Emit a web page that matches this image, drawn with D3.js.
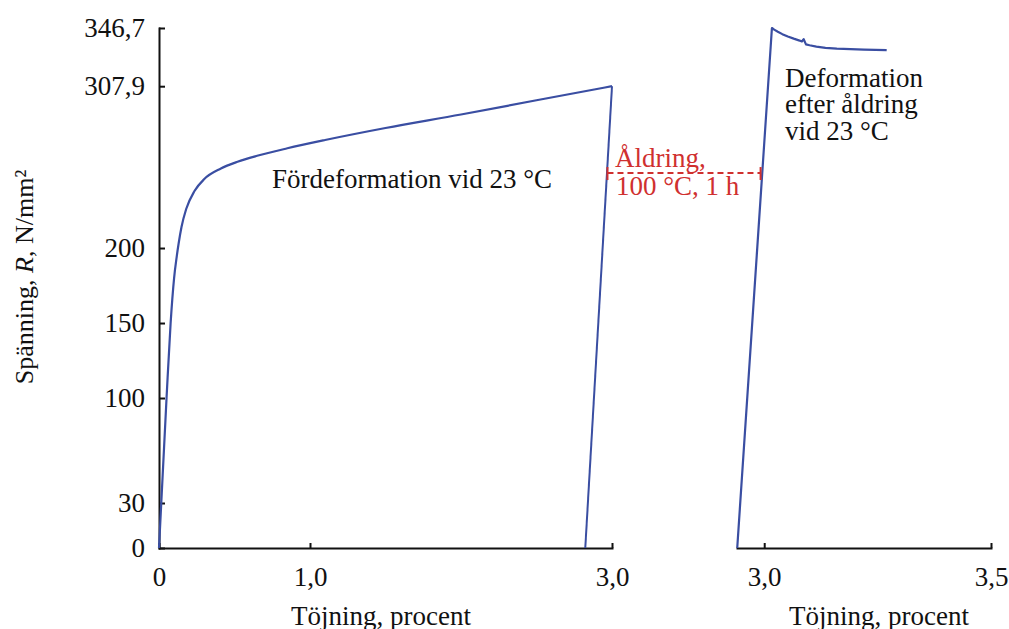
<!DOCTYPE html>
<html>
<head>
<meta charset="utf-8">
<script src="https://cdn.jsdelivr.net/npm/d3@7"></script>
<style>
  body { margin: 0; background: #fff; }
  svg text { font-family: "Liberation Serif", "Times New Roman", serif; fill: #111; }
  .axis path, .axis line { stroke: #111; stroke-width: 2; }
  .axis text { font-size: 27px; fill: #111; }
</style>
</head>
<body>
<div id="chart"></div>
<script>
// pre-deformation at 23 °C (strain %, stress N/mm2)
const preStrain = [0, 0.05, 0.077, 0.1, 0.117, 0.13, 0.149, 0.18, 0.235, 0.3, 0.41, 0.52, 0.65, 0.85, 1.1, 1.5, 2.0, 2.5, 3.0];
const preStress = [0, 100, 150, 180, 194, 203, 214, 226, 238, 246, 253, 257.5, 261.5, 266.5, 272, 280, 289, 298.5, 307.9];
// unloading after pre-deformation
const unloadStrain = [3.0, 2.823];
const unloadStress = [307.9, 0];
// deformation after ageing at 23 °C
const postStrain = [2.9405, 3.017, 3.022, 3.03, 3.04, 3.052, 3.065, 3.078, 3.083, 3.087, 3.092, 3.1, 3.115, 3.135, 3.16, 3.19, 3.22, 3.27];
const postStress = [0, 346.7, 345.6, 344.2, 342.6, 341.0, 339.6, 338.3, 337.7, 339.3, 335.8, 335.2, 334.3, 333.5, 332.9, 332.6, 332.3, 331.9];
// ageing level (dashed line)
const agingStress = 250;
const agingFrom = 2.97, agingTo = 2.992;

const yTicks = [0, 30, 100, 150, 200, 307.9, 346.7];
const xTicksLeft = [0, 1.0, 3.0];
const xTicksRight = [3.0, 3.5];

(function() {
  const width = 1009, height = 629;
  const blue = "#3a4ea2", red = "#d0302f";

  const svg = d3.select("#chart").append("svg")
      .attr("width", width)
      .attr("height", height);

  var y = d3.scaleLinear().domain([0, 346.7]).range([548, 28]);
  var xL = d3.scaleLinear().domain([0, 3.0]).range([159, 612]);
  var xR = d3.scaleLinear().domain([2.94, 3.5]).range([737, 991]);

  const fmt = d => d === 0 ? "0" : d3.format(".1f")(d).replace(".", ",");

  // y axis
  svg.append("g")
      .attr("class", "axis")
      .attr("transform", "translate(159,0)")
      .call(d3.axisLeft(y).tickValues(yTicks).tickSizeInner(-6).tickSizeOuter(0).tickPadding(14)
        .tickFormat(d => String(d).replace(".", ",")));

  // left x axis
  svg.append("g")
      .attr("class", "axis")
      .attr("transform", "translate(0,548)")
      .call(d3.axisBottom(xL).tickValues(xTicksLeft).tickSizeInner(-5).tickSizeOuter(0).tickPadding(19)
        .tickFormat(fmt));

  // right x axis
  svg.append("g")
      .attr("class", "axis")
      .attr("transform", "translate(0,548)")
      .call(d3.axisBottom(xR).tickValues(xTicksRight).tickSizeInner(-5).tickSizeOuter(0).tickPadding(19)
        .tickFormat(fmt));

  svg.selectAll(".axis .domain").attr("stroke-linecap", "square");

  // curves
  var lineL = d3.line().x(d => xL(d[0])).y(d => y(d[1])).curve(d3.curveMonotoneX);
  var lineLin = d3.line().x(d => xL(d[0])).y(d => y(d[1]));
  var lineR = d3.line().x(d => xR(d[0])).y(d => y(d[1]));

  svg.append("path")
      .datum(preStrain.map((s, i) => [s, preStress[i]]))
      .attr("d", lineL)
      .attr("fill", "none").attr("stroke", blue).attr("stroke-width", 2.2);

  svg.append("path")
      .datum(unloadStrain.map((s, i) => [s, unloadStress[i]]))
      .attr("d", lineLin)
      .attr("fill", "none").attr("stroke", blue).attr("stroke-width", 2);

  svg.append("path")
      .datum(postStrain.map((s, i) => [s, postStress[i]]))
      .attr("d", lineR)
      .attr("fill", "none").attr("stroke", blue).attr("stroke-width", 2.2)
      .attr("stroke-linejoin", "round");

  // ageing dashed line
  const ax1 = xL(agingFrom), ax2 = xR(agingTo), ay = y(agingStress);
  svg.append("line")
      .attr("x1", ax1).attr("x2", ax2).attr("y1", ay).attr("y2", ay)
      .attr("stroke", red).attr("stroke-width", 2).attr("stroke-dasharray", "6,4");
  svg.selectAll(".endcap")
      .data([ax1, ax2])
      .join("line")
      .attr("class", "endcap")
      .attr("x1", d => d).attr("x2", d => d)
      .attr("y1", ay - 6).attr("y2", ay + 7)
      .attr("stroke", red).attr("stroke-width", 2);

  // annotations
  svg.append("text").attr("x", 615).attr("y", 167)
      .style("font-size", "27px").style("fill", red).text("Åldring,");
  svg.append("text").attr("x", 616).attr("y", 195)
      .style("font-size", "27px").style("fill", red).text("100 °C, 1 h");

  svg.append("text").attr("x", 272).attr("y", 188)
      .style("font-size", "27px").text("Fördeformation vid 23 °C");

  const post = svg.append("text").attr("x", 785).attr("y", 87).style("font-size", "27px");
  ["Deformation", "efter åldring", "vid 23 °C"].forEach((t, i) => {
    post.append("tspan").attr("x", 785).attr("dy", i ? 26.3 : 0).text(t);
  });

  // axis titles
  svg.append("text").attr("x", 381).attr("y", 625)
      .attr("text-anchor", "middle").style("font-size", "27px").text("Töjning, procent");
  svg.append("text").attr("x", 879).attr("y", 625)
      .attr("text-anchor", "middle").style("font-size", "27px").text("Töjning, procent");

  const yt = svg.append("text")
      .attr("transform", "translate(33,277) rotate(-90)")
      .attr("text-anchor", "middle").style("font-size", "26px");
  yt.append("tspan").text("Spänning, ");
  yt.append("tspan").style("font-style", "italic").text("R");
  yt.append("tspan").text(", N/mm²");
})();
</script>
</body>
</html>
